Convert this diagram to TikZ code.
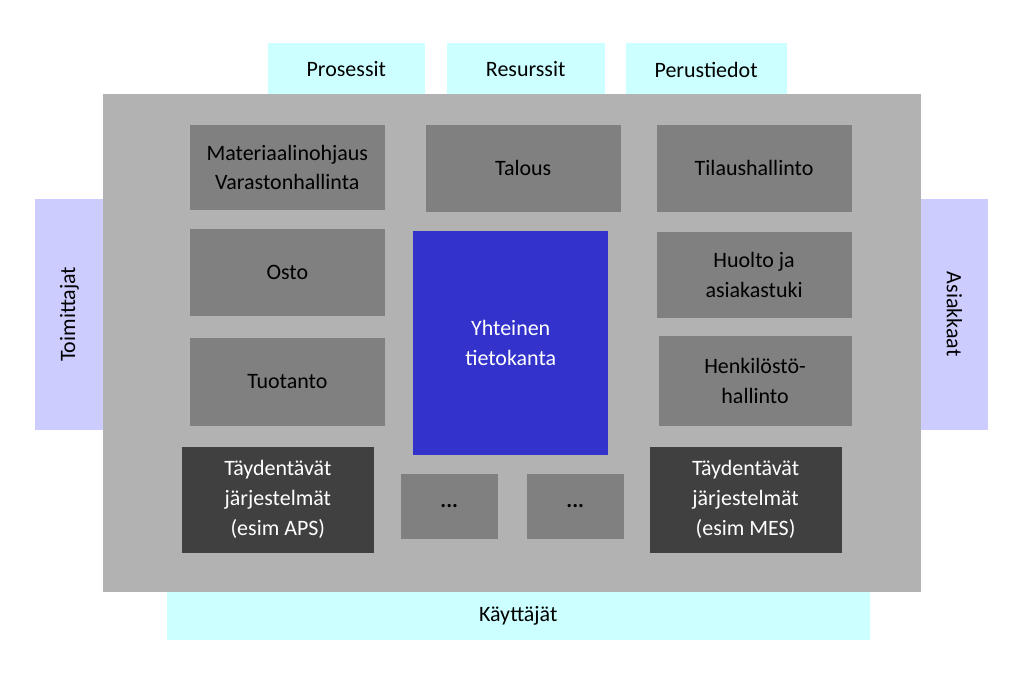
\documentclass[tikz,border=0pt]{standalone}
\usepackage{fontspec}
\setmainfont{Carlito}
\definecolor{cyanbg}{RGB}{204,255,255}
\definecolor{lilac}{RGB}{204,204,255}
\definecolor{frame}{RGB}{178,178,178}
\definecolor{midgray}{RGB}{128,128,128}
\definecolor{darkgray}{RGB}{64,64,64}
\definecolor{dbblue}{RGB}{51,51,204}
\tikzset{
  box/.style={inner sep=0pt, align=center, font=\fontsize{12.5}{17}\selectfont},
  side/.style={box, fill=cyanbg, text=black},
  party/.style={box, fill=lilac, text=black},
  module/.style={box, fill=midgray, text=black},
  extra/.style={box, fill=darkgray, text=white},
}
% box from pixel corners: \pbox{style}{name}{x1}{y1}{x2}{y2}{text}
\newcommand{\pbox}[7]{\node[#1, minimum width={(#5-#3)*0.02cm}, minimum height={(#6-#4)*0.02cm}]
  (#2) at ({(#3+#5)*0.01}, {-(#4+#6)*0.01}) {#7};}
\begin{document}
\begin{tikzpicture}
  \useasboundingbox (0,0) rectangle (20.48,-13.66);
  % outer frame
  \pbox{side}{proc}{268}{43}{425}{96}{Prosessit}
  \pbox{side}{res}{447}{43}{605}{96}{Resurssit}
  \pbox{side}{base}{626}{43}{787}{96}{Perustiedot}
  \pbox{side}{users}{167}{592}{870}{640}{Käyttäjät}
  \pbox{party}{supp}{35}{199}{104}{430}{}
  \node[rotate=90, font=\fontsize{12.5}{17}\selectfont] at (supp) {Toimittajat};
  \pbox{party}{cust}{921}{199}{989}{430}{}
  \node[rotate=-90, font=\fontsize{12.5}{17}\selectfont] at (cust) {Asiakkaat};
  \pbox{box}{erp}{104}{95}{921}{592}{}
  \fill[frame] (erp.south west) rectangle (erp.north east);
  % modules
  \pbox{module}{mat}{190}{125}{385}{210}{Materiaalinohjaus\\Varastonhallinta}
  \pbox{module}{fin}{426}{125}{621}{212}{Talous}
  \pbox{module}{order}{657}{125}{852}{212}{Tilaushallinto}
  \pbox{module}{buy}{190}{229}{385}{316}{Osto}
  \pbox{module}{serv}{657}{232}{852}{318}{Huolto ja\\asiakastuki}
  \pbox{module}{prod}{190}{338}{385}{426}{Tuotanto}
  \pbox{module}{hr}{659}{336}{852}{426}{Henkilöstö-\\hallinto}
  \pbox{module}{dots1}{401}{474}{498}{539}{\textbf{...}}
  \pbox{module}{dots2}{527}{474}{624}{539}{\textbf{...}}
  \pbox{extra}{aps}{182}{447}{374}{553}{Täydentävät\\järjestelmät\\(esim APS)}
  \pbox{extra}{mes}{650}{447}{842}{553}{Täydentävät\\järjestelmät\\(esim MES)}
  \pbox{box}{db}{414}{232}{608}{455}{Yhteinen\\tietokanta}
  \fill[dbblue] (db.south west) rectangle (db.north east);
  \node[box, text=white] at (db) {Yhteinen\\tietokanta};
\end{tikzpicture}
\end{document}
